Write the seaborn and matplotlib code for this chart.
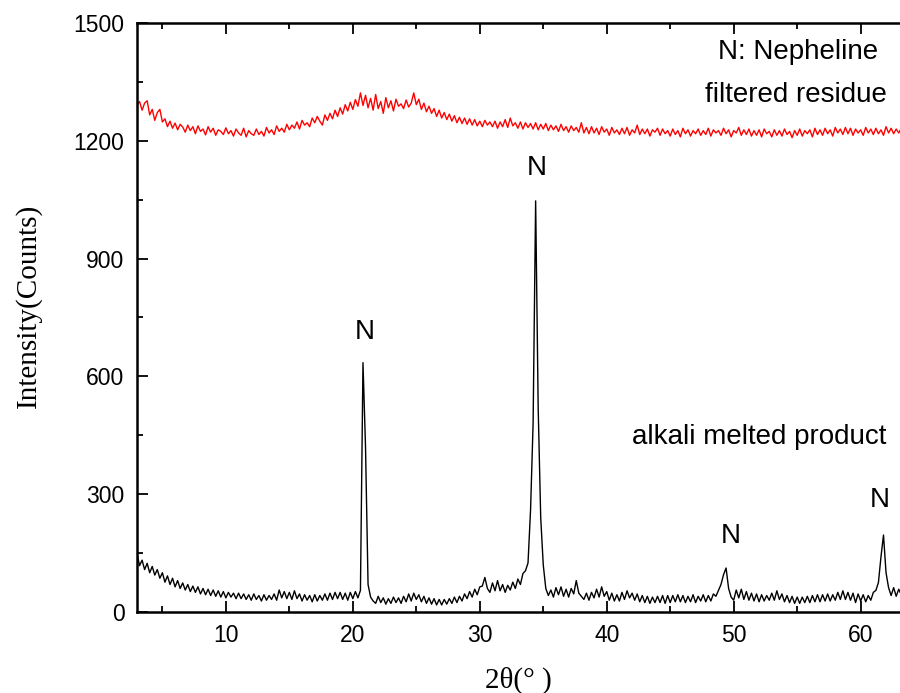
import numpy as np
import pandas as pd
import matplotlib
matplotlib.use("Agg")
import matplotlib.pyplot as plt
import seaborn as sns
from matplotlib.ticker import MultipleLocator

# 2-theta grid (degrees), step 0.2 from 3.0 to 63.2
two_theta = np.round(np.arange(3.0, 63.2001, 0.2), 1)

# alkali melted product (black)
alkali = [
    150, 118, 132, 108, 124, 100, 116, 94, 108, 86,
    100, 76, 92, 70, 86, 64, 80, 60, 74, 56,
    70, 52, 66, 50, 64, 46, 60, 44, 58, 42,
    56, 40, 54, 38, 52, 36, 50, 38, 48, 34,
    48, 34, 46, 32, 44, 30, 46, 32, 42, 28,
    44, 30, 42, 32, 46, 30, 56, 36, 52, 34,
    50, 32, 54, 34, 46, 28, 44, 30, 42, 26,
    44, 28, 42, 30, 46, 30, 48, 32, 50, 34,
    50, 32, 48, 30, 50, 34, 52, 36, 55, 635,
    420, 70, 38, 28, 22, 40, 24, 36, 20, 34,
    22, 38, 24, 36, 22, 40, 26, 46, 28, 48,
    32, 44, 26, 40, 22, 36, 20, 34, 18, 32,
    18, 32, 20, 34, 22, 38, 24, 40, 28, 46,
    34, 52, 38, 58, 44, 64, 66, 88, 60, 50,
    74, 54, 80, 54, 70, 50, 68, 56, 76, 60,
    84, 70, 98, 105, 125, 260, 480, 1047, 520, 240,
    120, 60, 42, 56, 38, 62, 44, 64, 40, 58,
    38, 60, 46, 80, 48, 40, 32, 48, 30, 50,
    36, 58, 38, 64, 40, 52, 30, 48, 28, 44,
    28, 50, 32, 54, 36, 48, 30, 46, 26, 42,
    24, 40, 22, 38, 24, 40, 24, 42, 22, 42,
    24, 42, 26, 44, 26, 42, 24, 40, 26, 44,
    24, 40, 28, 44, 26, 42, 28, 46, 40, 55,
    70, 95, 112, 60, 38, 30, 56, 36, 58, 32,
    52, 30, 48, 28, 46, 26, 44, 28, 42, 30,
    48, 30, 54, 32, 46, 26, 42, 24, 40, 22,
    38, 22, 38, 24, 40, 24, 42, 26, 44, 26,
    44, 28, 46, 28, 44, 30, 50, 32, 54, 32,
    50, 30, 48, 24, 46, 28, 44, 26, 42, 30,
    50, 55, 75, 140, 196, 100, 62, 42, 62, 40,
    58, 44,
]

# filtered residue (red)
residue = [
    1290, 1300, 1278, 1296, 1302, 1266, 1280, 1252, 1272, 1280,
    1248, 1256, 1236, 1250, 1232, 1245, 1228, 1242, 1235, 1222,
    1240, 1226, 1236, 1218, 1238, 1224, 1230, 1215, 1236, 1222,
    1232, 1214, 1228, 1224, 1216, 1233, 1218, 1226, 1212, 1230,
    1220, 1214, 1232, 1210, 1226, 1218, 1214, 1230, 1216, 1224,
    1212, 1234, 1220, 1228, 1216, 1238, 1224, 1232, 1222, 1242,
    1228, 1240, 1232, 1248, 1230, 1252, 1240, 1246, 1236, 1258,
    1246, 1262, 1250, 1240, 1266, 1252, 1270, 1256, 1278, 1262,
    1284, 1268, 1292, 1276, 1298, 1280, 1305, 1288, 1322, 1290,
    1316, 1284, 1308, 1278, 1318, 1282, 1300, 1270, 1310, 1284,
    1302, 1276, 1306, 1288, 1294, 1282, 1304, 1286, 1296, 1322,
    1292, 1306, 1280, 1296, 1274, 1288, 1270, 1282, 1262, 1278,
    1258, 1272, 1254, 1268, 1250, 1264, 1246, 1260, 1244, 1258,
    1242, 1256, 1240, 1254, 1238, 1250, 1236, 1252, 1240, 1248,
    1236, 1250, 1232, 1248, 1236, 1254, 1234, 1258, 1238, 1246,
    1232, 1248, 1230, 1246, 1234, 1244, 1230, 1246, 1228, 1242,
    1230, 1244, 1226, 1240, 1228, 1238, 1224, 1242, 1226, 1236,
    1222, 1238, 1226, 1234, 1222, 1246, 1220, 1234, 1218, 1236,
    1220, 1232, 1216, 1236, 1222, 1230, 1214, 1234, 1220, 1228,
    1216, 1232, 1218, 1234, 1214, 1228, 1220, 1240, 1216, 1230,
    1218, 1230, 1212, 1228, 1222, 1232, 1214, 1230, 1218, 1226,
    1212, 1230, 1216, 1226, 1210, 1232, 1218, 1228, 1212, 1226,
    1218, 1230, 1214, 1226, 1216, 1232, 1212, 1228, 1220, 1226,
    1214, 1232, 1218, 1228, 1210, 1226, 1220, 1234, 1214, 1228,
    1216, 1230, 1212, 1226, 1214, 1228, 1210, 1230, 1218, 1224,
    1210, 1228, 1214, 1226, 1212, 1230, 1216, 1224, 1208, 1226,
    1214, 1230, 1212, 1226, 1218, 1228, 1210, 1232, 1216, 1228,
    1214, 1232, 1218, 1228, 1212, 1234, 1220, 1230, 1216, 1234,
    1218, 1232, 1214, 1230, 1220, 1228, 1214, 1234, 1220, 1230,
    1216, 1232, 1218, 1228, 1214, 1236, 1220, 1232, 1218, 1230,
    1220, 1232,
]

peak_labels = ["N", "N", "N", "N"]
peak_pos = [20.95, 34.5, 49.77, 61.5]
peak_lab_y = [713, 1131, 194, 285]

yticks = [0, 300, 600, 900, 1200, 1500]
xticks = [10, 20, 30, 40, 50, 60]

sns.set_style("ticks")
plt.rcParams["font.family"] = ["Liberation Sans", "DejaVu Sans"]
plt.rcParams["text.color"] = "black"
plt.rcParams["axes.labelcolor"] = "black"

fig = plt.figure(figsize=(9, 6.93), dpi=100)
ax = fig.add_axes([137 / 900, 81 / 693, 763 / 900, 589 / 693])

df_a = pd.DataFrame({"x": two_theta, "y": alkali})
df_r = pd.DataFrame({"x": two_theta, "y": residue})
sns.lineplot(data=df_a, x="x", y="y", ax=ax, color="black", lw=1.0,
             estimator=None, sort=False)
sns.lineplot(data=df_r, x="x", y="y", ax=ax, color="red", lw=1.0,
             estimator=None, sort=False)

ax.set_xlim(3, 63.1)
ax.set_ylim(0, 1500)
ax.set_xticks(xticks)
ax.set_yticks(yticks)
ax.xaxis.set_minor_locator(MultipleLocator(5))
ax.yaxis.set_minor_locator(MultipleLocator(150))
ax.tick_params(which="both", direction="in", top=True, right=False,
               labelsize=16.5, width=1.3, colors="black")
ax.tick_params(which="major", length=8, pad=9)
ax.tick_params(which="minor", length=4)
for s in ["left", "bottom", "top"]:
    ax.spines[s].set_linewidth(1.8)
    ax.spines[s].set_color("black")
ax.spines["right"].set_visible(False)

ax.set_xlabel("2θ(° )", family=["Liberation Serif", "DejaVu Serif"],
              fontsize=21, labelpad=14)
ax.set_ylabel("Intensity(Counts)", family=["Liberation Serif", "DejaVu Serif"],
              fontsize=21)
ax.yaxis.set_label_coords(-0.124, 0.52)

for lab, px, py in zip(peak_labels, peak_pos, peak_lab_y):
    ax.text(px, py, lab, ha="center", va="center", fontsize=20)
ax.text(61.35, 1426, "N: Nepheline", ha="right", va="center", fontsize=20)
ax.text(62.1, 1317, "filtered residue", ha="right", va="center", fontsize=20)
ax.text(62.05, 446, "alkali melted product", ha="right", va="center", fontsize=20)

fig.savefig("out.png", dpi=100)
